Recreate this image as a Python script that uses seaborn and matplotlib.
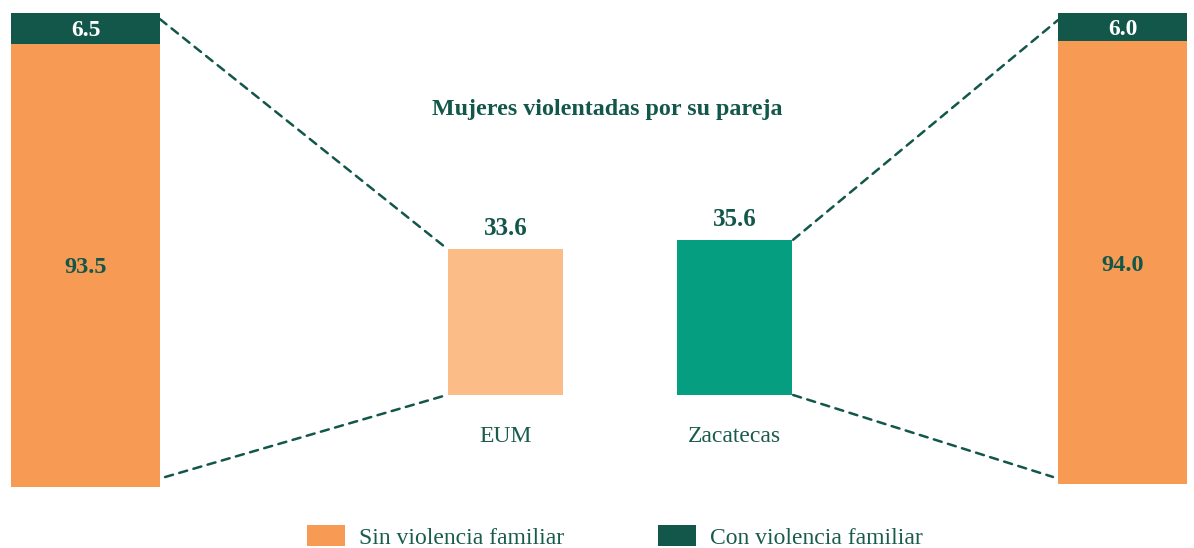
import matplotlib
matplotlib.use("Agg")
import matplotlib.pyplot as plt
import seaborn as sns
from matplotlib.patches import ConnectionPatch, Patch

sns.set_theme(style="white")
plt.rcParams['font.family'] = ['Liberation Serif', 'DejaVu Serif']

# ---- data ----
title = "Mujeres violentadas por su pareja"
categories = ["EUM", "Zacatecas"]
violentadas = [33.6, 35.6]
eum_sin = 93.5
eum_con = 6.5
zac_sin = 94.0
zac_con = 6.0
legend_labels = ["Sin violencia familiar", "Con violencia familiar"]

ORANGE = "#F79B54"
DARK = "#13574A"
LIGHT_OR = "#FBBC88"
TEAL = "#069E80"
TXT = "#1A5C4C"

W, H = 1194, 548
fig = plt.figure(figsize=(W / 100, H / 100), dpi=100)


def px_axes(x0, x1, ytop, ybot):
    return fig.add_axes([x0 / W, 1 - ybot / H, (x1 - x0) / W, (ybot - ytop) / H])


def stacked(ax, sin, con):
    sns.barplot(x=["a"], y=[sin + con], color=DARK, width=1.0, ax=ax,
                saturation=1, linewidth=0)
    sns.barplot(x=["a"], y=[sin], color=ORANGE, width=1.0, ax=ax,
                saturation=1, linewidth=0)
    ax.set_xlim(-0.5, 0.5)
    ax.set_ylim(0, sin + con)
    ax.axis("off")
    ax.text(0, sin / 2, f"{sin:.1f}", ha="center", va="center_baseline",
            fontsize=17.5, fontweight="bold", color=DARK)
    ax.text(0, sin + con / 2, f"{con:.1f}", ha="center", va="center_baseline",
            fontsize=17, fontweight="bold", color="white")


axL = px_axes(11, 160, 13, 487)
stacked(axL, eum_sin, eum_con)
axR = px_axes(1058, 1187, 13, 484)
stacked(axR, zac_sin, zac_con)

# central bars
bw = 115 / 229
axC = px_axes(448, 792, 395 - 40 * 4.36, 395)
sns.barplot(x=categories, y=violentadas, hue=categories,
            palette=[LIGHT_OR, TEAL], width=bw, ax=axC, legend=False,
            saturation=1, linewidth=0)
axC.set_xlim(-bw / 2, 1 + bw / 2)
axC.set_ylim(0, 40)
axC.axis("off")
for i, (c, v) in enumerate(zip(categories, violentadas)):
    axC.annotate(f"{v:.1f}", (i, v), xytext=(0, 23), textcoords="offset pixels",
                 ha="center", va="center_baseline", fontsize=18, fontweight="bold",
                 color=DARK, annotation_clip=False)
    axC.annotate(c, (i, 0), xytext=(0, -39), textcoords="offset pixels",
                 ha="center", va="center_baseline", fontsize=17, color=TXT,
                 annotation_clip=False)

# dashed connectors
line_kw = dict(color=DARK, linestyle=(0, (3.3, 2.6)), linewidth=1.8)
conns = [
    (axL, (0.5, eum_sin + eum_con - 1.3), axC, (-bw / 2 - 0.005, violentadas[0])),
    (axL, (0.534, 2.1), axC, (-bw / 2 - 0.005, 0)),
    (axC, (1 + bw / 2 + 0.005, violentadas[1]), axR, (-0.5, zac_sin + zac_con - 1.5)),
    (axC, (1 + bw / 2 + 0.005, 0), axR, (-0.539, 1.5)),
]
for a1, p1, a2, p2 in conns:
    cp = ConnectionPatch(xyA=p1, coordsA=a1.transData, xyB=p2, coordsB=a2.transData,
                         **line_kw)
    fig.add_artist(cp)

fig.text(607 / W, 1 - 107 / H, title, ha="center", va="center_baseline",
         fontsize=17.3, fontweight="bold", color=DARK)

handles = [Patch(facecolor=ORANGE, edgecolor="none"),
           Patch(facecolor=DARK, edgecolor="none")]
leg = fig.legend(handles, legend_labels, loc="center", ncol=2,
                 bbox_to_anchor=(615 / W, 1 - 537 / H), frameon=False,
                 fontsize=17, handlelength=1.6, handleheight=1.0,
                 handletextpad=0.6, columnspacing=4.0)
for t in leg.get_texts():
    t.set_color(TXT)

fig.savefig("out.png", dpi=100)
